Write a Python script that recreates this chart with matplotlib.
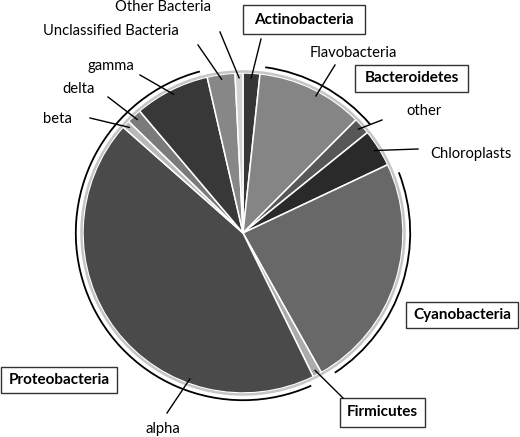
import numpy as np
import matplotlib
matplotlib.use("Agg")
import matplotlib.pyplot as plt
from matplotlib.patches import Arc, Circle, Rectangle

plt.rcParams['font.family'] = ['Lato', 'DejaVu Sans']

# slices, clockwise from 12 o'clock (percent of sequences)
slices = ["Actinobacteria", "Flavobacteria", "other", "Chloroplasts", "Cyanobacteria",
          "Firmicutes", "alpha", "beta", "delta", "gamma",
          "Unclassified Bacteria", "Other Bacteria"]
percent = [1.7, 10.8, 1.7, 3.8, 23.9, 0.9, 43.8, 0.8, 1.5, 7.6, 2.8, 0.8]
greys = ["#363636", "#858585", "#575757", "#2a2a2a", "#686868",
         "#ababab", "#4a4a4a", "#b8b8b8", "#7a7a7a", "#383838",
         "#878787", "#d2d2d2"]

# phylum groups drawn as outer brackets: (first slice, last slice, gap in degrees)
groups = [("Flavobacteria", "other", 1.5),
          ("Cyanobacteria", "Cyanobacteria", 4.0),
          ("alpha", "gamma", 2.0)]

# boxed phylum labels: text, box (x0, y0, x1, y1) in pixels
boxes = [("Actinobacteria", (243, 5, 365, 34)),
         ("Bacteroidetes", (355, 65, 468, 92)),
         ("Cyanobacteria", (406, 302, 518, 328)),
         ("Firmicutes", (340, 398, 425, 427)),
         ("Proteobacteria", (1, 367, 117, 393))]

# plain labels: text, (x, y, ha)
plain = [("Other Bacteria", (115, 7, "left")),
         ("Unclassified Bacteria", (43, 31, "left")),
         ("gamma", (88, 66, "left")),
         ("delta", (62, 89, "left")),
         ("beta", (43, 119, "left")),
         ("Flavobacteria", (310, 53, "left")),
         ("other", (406, 111, "left")),
         ("Chloroplasts", (430, 154, "left")),
         ("alpha", (163, 429, "center"))]

# leader lines: slice -> label side start point, optional fixed angle
leaders = [("Other Bacteria", (220, 32), None),
           ("Unclassified Bacteria", (198, 45), None),
           ("Actinobacteria", (261, 39), None),
           ("Flavobacteria", (335, 65), 28.0),
           ("gamma", (140, 75), None),
           ("delta", (108, 97), None),
           ("beta", (90, 118), None),
           ("other", (382, 120), None),
           ("Chloroplasts", (418, 149), None),
           ("Firmicutes", (343, 398), None),
           ("alpha", (167, 413), 200.0)]

cx, cy, R = 243, 233, 160

fig = plt.figure(figsize=(5.2, 4.37), dpi=100)
ax = fig.add_axes([0, 0, 1, 1])

# inverted y axis: startangle 270 + counterclock gives clockwise from top on screen
ax.pie(percent, colors=greys, startangle=270, counterclock=True,
       center=(cx, cy), radius=R,
       wedgeprops=dict(edgecolor="white", linewidth=1.1))
ax.set_xlim(0, 520)
ax.set_ylim(437, 0)
ax.set_aspect("equal")
ax.axis("off")

# light bevel rim round the pie
ax.add_patch(Circle((cx, cy), R + 1.5, fill=False, edgecolor="#c6c6c6", linewidth=1.8))

tot = sum(percent)
ends = np.cumsum(percent) / tot * 360
starts = ends - np.array(percent) / tot * 360
mids = (starts + ends) / 2

for first, last, gap in groups:
    a1 = starts[slices.index(first)] + gap
    a2 = ends[slices.index(last)] - gap
    ax.add_patch(Arc((cx, cy), 2 * R * 1.045, 2 * R * 1.045,
                     theta1=a1 - 90, theta2=a2 - 90,
                     color="black", linewidth=1.3))

for name, (x0, y0), ang in leaders:
    a = np.radians(mids[slices.index(name)] if ang is None else ang)
    x1 = cx + 0.97 * R * np.sin(a)
    y1 = cy - 0.97 * R * np.cos(a)
    ax.plot([x0, x1], [y0, y1], color="black", linewidth=1.0)

for txt, (x0, y0, x1, y1) in boxes:
    ax.add_patch(Rectangle((x0, y0), x1 - x0, y1 - y0, facecolor="white",
                           edgecolor="#333333", linewidth=1.0))
    ax.text((x0 + x1) / 2, (y0 + y1) / 2, txt, ha="center", va="center",
            fontsize=11, fontweight="bold")

for txt, (x, y, ha) in plain:
    ax.text(x, y, txt, ha=ha, va="center", fontsize=10.6)

fig.savefig("out.png", dpi=100)
